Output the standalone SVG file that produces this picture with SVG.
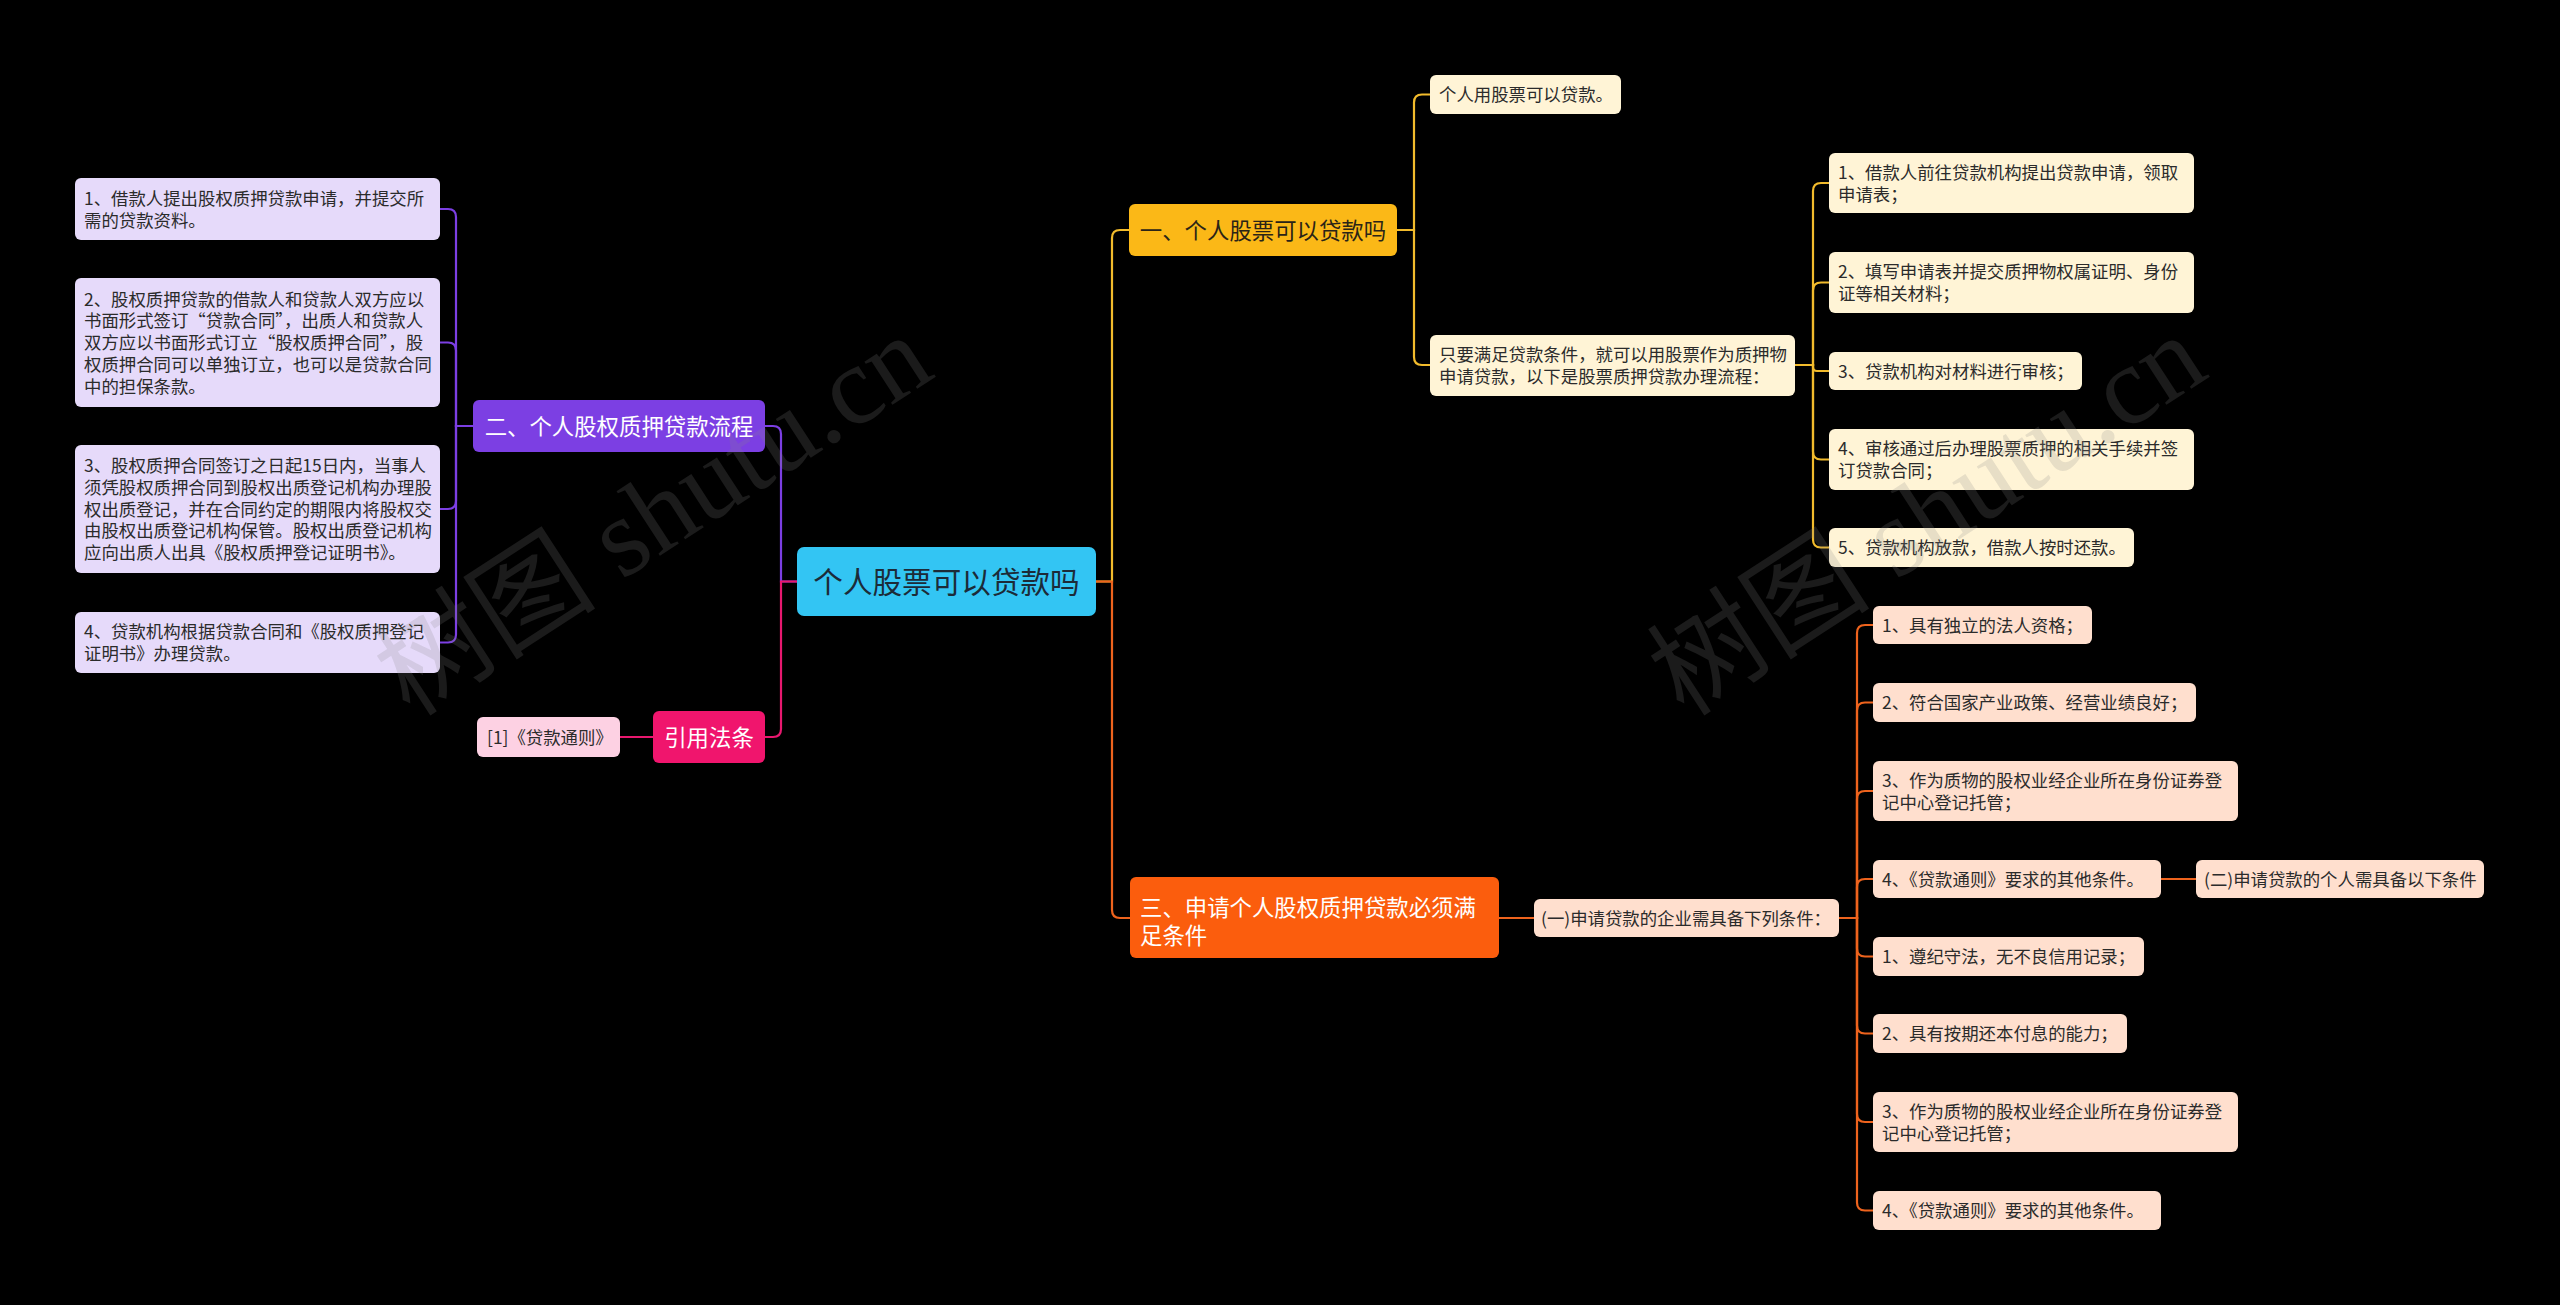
<svg xmlns="http://www.w3.org/2000/svg" width="2560" height="1305" viewBox="0 0 2560 1305">
<style>
text { font-family: "Noto Sans CJK SC", "Noto Sans", sans-serif; }
.s { font-size: 17.4px; fill: #2b2b2b; }
.m { font-size: 22.4px; }
.w { fill: #ffffff; }
.d { fill: #2a2417; }
.c { fill: none; stroke-width: 2.2; }
.pu { stroke: #7c3fe3; }
.pk { stroke: #e8186f; }
.ye { stroke: #f2bb2c; }
.or { stroke: #ee631d; }
.lv { fill: #e6dafa; }
.cr { fill: #fff4d6; }
.pe { fill: #ffdfce; }
.lp { fill: #fdd1e3; }
.wm { font-family: "Liberation Serif", "Noto Sans CJK SC", serif; font-size: 112px; fill: #888888; fill-opacity: 0.2; }
</style>
<rect x="0" y="0" width="2560" height="1305" fill="#000000"/>

<g id="connectors">
  <!-- root left -->
  <path class="c pu" d="M797 581.5 H781 V434 Q781 426 773 426 H765"/>
  <path class="c pk" d="M797 581.5 H781 V729 Q781 737 773 737 H765"/>
  <path class="c pk" d="M653 737 H620"/>
  <!-- 二 children -->
  <path class="c pu" d="M473 426 H456 V217 Q456 209 448 209 H440"/>
  <path class="c pu" d="M473 426 H456 V350.5 Q456 342.5 448 342.5 H440"/>
  <path class="c pu" d="M473 426 H456 V501 Q456 509 448 509 H440"/>
  <path class="c pu" d="M473 426 H456 V634.5 Q456 642.5 448 642.5 H440"/>
  <!-- root right -->
  <path class="c ye" d="M1096 581.5 H1112 V238 Q1112 230 1120 230 H1129"/>
  <path class="c or" d="M1096 581.5 H1112 V910 Q1112 918 1120 918 H1130"/>
  <!-- 一 children -->
  <path class="c ye" d="M1397 230 H1414 V102.5 Q1414 94.5 1422 94.5 H1430"/>
  <path class="c ye" d="M1397 230 H1414 V357 Q1414 365 1422 365 H1430"/>
  <!-- 只要 children -->
  <path class="c ye" d="M1795 365 H1813 V191 Q1813 183 1821 183 H1829"/>
  <path class="c ye" d="M1795 365 H1813 V290.5 Q1813 282.5 1821 282.5 H1829"/>
  <path class="c ye" d="M1795 365 H1813 V367 Q1813 371 1817 371 H1829"/>
  <path class="c ye" d="M1795 365 H1813 V451.5 Q1813 459.5 1821 459.5 H1829"/>
  <path class="c ye" d="M1795 365 H1813 V539.5 Q1813 547.5 1821 547.5 H1829"/>
  <!-- 三 children -->
  <path class="c or" d="M1499 918 H1534"/>
  <path class="c or" d="M1839 918 H1857 V633 Q1857 625 1865 625 H1873"/>
  <path class="c or" d="M1839 918 H1857 V710.5 Q1857 702.5 1865 702.5 H1873"/>
  <path class="c or" d="M1839 918 H1857 V799 Q1857 791 1865 791 H1873"/>
  <path class="c or" d="M1839 918 H1857 V887 Q1857 879 1865 879 H1873"/>
  <path class="c or" d="M1839 918 H1857 V948.5 Q1857 956.5 1865 956.5 H1873"/>
  <path class="c or" d="M1839 918 H1857 V1025.5 Q1857 1033.5 1865 1033.5 H1873"/>
  <path class="c or" d="M1839 918 H1857 V1114 Q1857 1122 1865 1122 H1873"/>
  <path class="c or" d="M1839 918 H1857 V1202.5 Q1857 1210.5 1865 1210.5 H1873"/>
  <path class="c or" d="M2161 879 H2196"/>
</g>

<g id="root">
  <rect x="797" y="547" width="299" height="69" rx="7" fill="#33c5f3"/>
  <text x="946.5" y="592.7" font-size="29.6" fill="#1c2b38" text-anchor="middle">个人股票可以贷款吗</text>
</g>

<g id="n1">
  <rect x="1129" y="204" width="268" height="52" rx="6" fill="#fbb817"/>
  <text class="m d" x="1263" y="238.5" text-anchor="middle">一、个人股票可以贷款吗</text>
</g>
<g id="n1a">
  <rect class="cr" x="1430" y="75" width="191" height="39" rx="6"/>
  <text class="s" x="1439" y="101.1">个人用股票可以贷款。</text>
</g>
<g id="n1b">
  <rect class="cr" x="1430" y="335" width="365" height="61" rx="6"/>
  <text class="s" x="1439" y="361.3">只要满足贷款条件，就可以用股票作为质押物</text>
  <text class="s" x="1439" y="383">申请贷款，以下是股票质押贷款办理流程：</text>
</g>
<g id="n1b1">
  <rect class="cr" x="1829" y="153" width="365" height="60" rx="6"/>
  <text class="s" x="1838" y="178.8">1、借款人前往贷款机构提出贷款申请，领取</text>
  <text class="s" x="1838" y="200.5">申请表；</text>
</g>
<g id="n1b2">
  <rect class="cr" x="1829" y="252" width="365" height="61" rx="6"/>
  <text class="s" x="1838" y="278.3">2、填写申请表并提交质押物权属证明、身份</text>
  <text class="s" x="1838" y="300">证等相关材料；</text>
</g>
<g id="n1b3">
  <rect class="cr" x="1829" y="352" width="253" height="38" rx="6"/>
  <text class="s" x="1838" y="377.6">3、贷款机构对材料进行审核；</text>
</g>
<g id="n1b4">
  <rect class="cr" x="1829" y="429" width="365" height="61" rx="6"/>
  <text class="s" x="1838" y="455.3">4、审核通过后办理股票质押的相关手续并签</text>
  <text class="s" x="1838" y="477">订贷款合同；</text>
</g>
<g id="n1b5">
  <rect class="cr" x="1829" y="528" width="305" height="39" rx="6"/>
  <text class="s" x="1838" y="554.1">5、贷款机构放款，借款人按时还款。</text>
</g>

<g id="n2">
  <rect x="473" y="400" width="292" height="52" rx="6" fill="#7c3fe3"/>
  <text class="m w" x="619" y="434.5" text-anchor="middle">二、个人股权质押贷款流程</text>
</g>
<g id="n2a">
  <rect class="lv" x="75" y="178" width="365" height="62" rx="6"/>
  <text class="s" x="84" y="204.8">1、借款人提出股权质押贷款申请，并提交所</text>
  <text class="s" x="84" y="226.5">需的贷款资料。</text>
</g>
<g id="n2b">
  <rect class="lv" x="75" y="278" width="365" height="129" rx="6"/>
  <text class="s" x="84" y="305.7">2、股权质押贷款的借款人和贷款人双方应以</text>
  <text class="s" x="84" y="327.4">书面形式签订“贷款合同”，出质人和贷款人</text>
  <text class="s" x="84" y="349.1">双方应以书面形式订立“股权质押合同”，股</text>
  <text class="s" x="84" y="370.8">权质押合同可以单独订立，也可以是贷款合同</text>
  <text class="s" x="84" y="392.5">中的担保条款。</text>
</g>
<g id="n2c">
  <rect class="lv" x="75" y="445" width="365" height="128" rx="6"/>
  <text class="s" x="84" y="472.2">3、股权质押合同签订之日起15日内，当事人</text>
  <text class="s" x="84" y="493.9">须凭股权质押合同到股权出质登记机构办理股</text>
  <text class="s" x="84" y="515.6">权出质登记，并在合同约定的期限内将股权交</text>
  <text class="s" x="84" y="537.3">由股权出质登记机构保管。股权出质登记机构</text>
  <text class="s" x="84" y="559">应向出质人出具《股权质押登记证明书》。</text>
</g>
<g id="n2d">
  <rect class="lv" x="75" y="612" width="365" height="61" rx="6"/>
  <text class="s" x="84" y="638.3">4、贷款机构根据贷款合同和《股权质押登记</text>
  <text class="s" x="84" y="660">证明书》办理贷款。</text>
</g>

<g id="n4">
  <rect x="653" y="711" width="112" height="52" rx="6" fill="#f0156d"/>
  <text class="m w" x="709" y="745.5" text-anchor="middle">引用法条</text>
</g>
<g id="n4a">
  <rect class="lp" x="477" y="717" width="143" height="40" rx="6"/>
  <text class="s" x="487" y="743.6">[1]《贷款通则》</text>
</g>

<g id="n3">
  <rect x="1130" y="877" width="369" height="81" rx="6" fill="#fb5d0d"/>
  <text class="m w" x="1140" y="916">三、申请个人股权质押贷款必须满</text>
  <text class="m w" x="1140" y="943.5">足条件</text>
</g>
<g id="n3a">
  <rect class="pe" x="1534" y="899" width="305" height="38" rx="6"/>
  <text class="s" x="1541" y="924.6">(一)申请贷款的企业需具备下列条件：</text>
</g>
<g id="n3a1">
  <rect class="pe" x="1873" y="606" width="219" height="38" rx="6"/>
  <text class="s" x="1882" y="631.6">1、具有独立的法人资格；</text>
</g>
<g id="n3a2">
  <rect class="pe" x="1873" y="683" width="323" height="39" rx="6"/>
  <text class="s" x="1882" y="709.1">2、符合国家产业政策、经营业绩良好；</text>
</g>
<g id="n3a3">
  <rect class="pe" x="1873" y="761" width="365" height="60" rx="6"/>
  <text class="s" x="1882" y="786.8">3、作为质物的股权业经企业所在身份证券登</text>
  <text class="s" x="1882" y="808.5">记中心登记托管；</text>
</g>
<g id="n3a4">
  <rect class="pe" x="1873" y="860" width="288" height="38" rx="6"/>
  <text class="s" x="1882" y="885.6">4、《贷款通则》要求的其他条件。</text>
</g>
<g id="n3a4a">
  <rect class="pe" x="2196" y="860" width="288" height="38" rx="6"/>
  <text class="s" x="2204" y="885.6">(二)申请贷款的个人需具备以下条件</text>
</g>
<g id="n3a5">
  <rect class="pe" x="1873" y="937" width="271" height="39" rx="6"/>
  <text class="s" x="1882" y="963.1">1、遵纪守法，无不良信用记录；</text>
</g>
<g id="n3a6">
  <rect class="pe" x="1873" y="1014" width="254" height="39" rx="6"/>
  <text class="s" x="1882" y="1040.1">2、具有按期还本付息的能力；</text>
</g>
<g id="n3a7">
  <rect class="pe" x="1873" y="1092" width="365" height="60" rx="6"/>
  <text class="s" x="1882" y="1117.8">3、作为质物的股权业经企业所在身份证券登</text>
  <text class="s" x="1882" y="1139.5">记中心登记托管；</text>
</g>
<g id="n3a8">
  <rect class="pe" x="1873" y="1191" width="288" height="39" rx="6"/>
  <text class="s" x="1882" y="1217.1">4、《贷款通则》要求的其他条件。</text>
</g>

<g id="watermark">
  <text class="wm" x="653" y="515" text-anchor="middle" dominant-baseline="central" transform="rotate(-33 653 515)">树图 shutu.cn</text>
  <text class="wm" x="1927" y="515" text-anchor="middle" dominant-baseline="central" transform="rotate(-33 1927 515)">树图 shutu.cn</text>
</g>
</svg>
